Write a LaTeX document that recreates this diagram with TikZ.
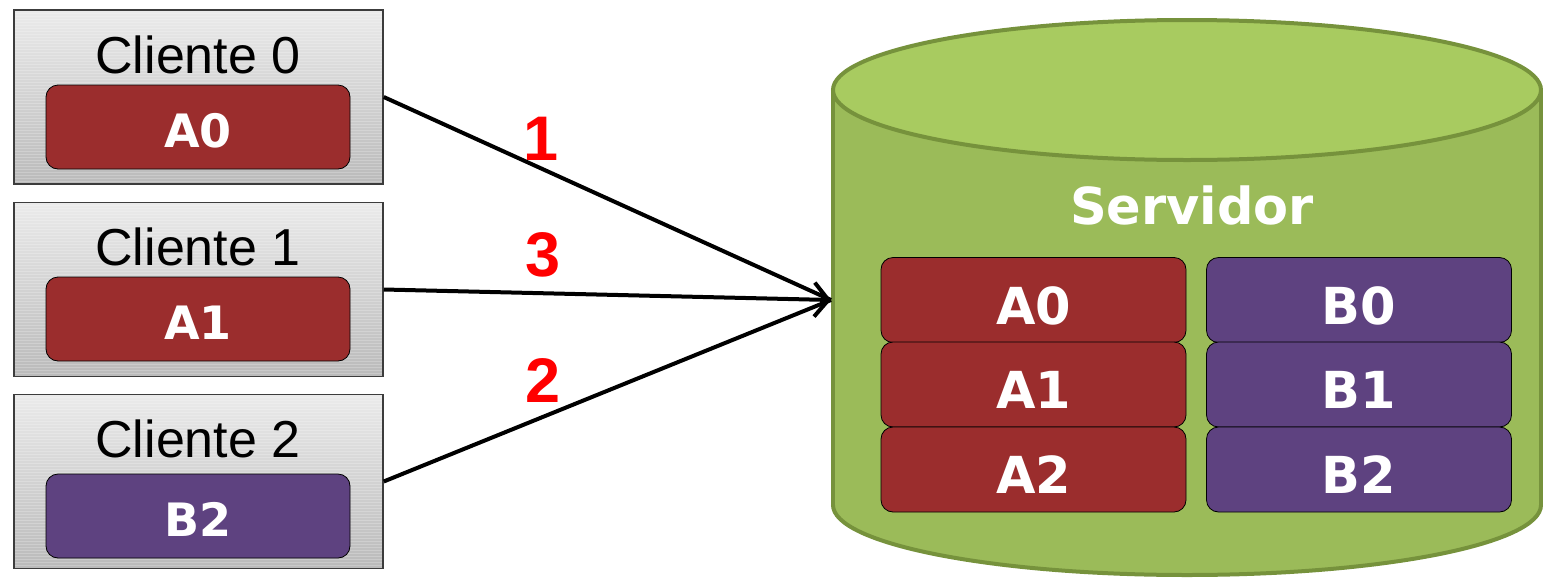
\documentclass[tikz,border=0pt]{standalone}
\usepackage{fontspec}
\setmainfont{Liberation Sans}
\newfontfamily\labelfont{DejaVu Sans}
\usetikzlibrary{arrows.meta,calc}

\definecolor{blockred}{RGB}{155,45,45}
\definecolor{blockpurple}{RGB}{94,66,128}
\definecolor{dbbody}{RGB}{155,187,89}
\definecolor{dbtop}{RGB}{168,203,96}
\definecolor{dbedge}{RGB}{118,146,60}
\definecolor{clientedge}{RGB}{60,60,60}

\tikzset{
  client/.style={rectangle, minimum width=369pt, minimum height=174pt, inner sep=0pt,
    draw=clientedge, line width=1.5pt, top color=black!8, bottom color=black!27,
    path picture={
      \foreach \k in {3,6,...,174}{
        \draw[white, opacity=.22, line width=.6pt]
          ($(path picture bounding box.north west)+(0,\k)$) --
          ($(path picture bounding box.north east)+(0,\k)$);
      }
    }},
  cname/.style={inner sep=0pt, font=\fontsize{52}{52}\selectfont, text=black},
  block/.style={rectangle, rounded corners=12pt, draw=black, line width=.8pt,
    inner sep=0pt, text=white, text depth=0pt},
  % the taller text box sets each label a little below the block's centre
  cblock/.style={block, minimum width=304pt, minimum height=84pt, text height=40pt,
    font=\labelfont\bfseries\fontsize{46}{46}\selectfont},
  sblock/.style={block, minimum width=305pt, minimum height=85pt, text height=48pt,
    font=\labelfont\bfseries\fontsize{51}{51}\selectfont},
  stepnum/.style={inner sep=0pt, text=red, font=\bfseries\fontsize{63}{63}\selectfont},
  conn/.style={line width=4pt, draw=black},
  conntip/.style={conn, -{Straight Barb[length=14pt, width=34pt, line width=4pt]}}
}

\begin{document}
\begin{tikzpicture}[x=1pt, y=-1pt]
\useasboundingbox (0,0) rectangle (1543,579);

% ---- server cylinder ----
\fill[dbbody] (833,90) rectangle (1541,505);
\fill[dbbody] (1187,505) ellipse [x radius=354, y radius=70];
\draw[dbedge, line width=4pt] (833,90) -- (833,505);
\draw[dbedge, line width=4pt] (1541,90) -- (1541,505);
\begin{scope}
  \clip (800,505) rectangle (1600,600);
  \draw[dbedge, line width=4pt] (1187,505) ellipse [x radius=354, y radius=70];
\end{scope}
\filldraw[fill=dbtop, draw=dbedge, line width=4pt] (1187,90) ellipse [x radius=354, y radius=70];
\coordinate (srv) at (831,300);

\node[inner sep=0pt, text=white, font=\labelfont\bfseries\fontsize{51}{51}\selectfont]
  (srvname) at (1192,205) {Servidor};

% ---- server blocks ----
\node[sblock, fill=blockred]    (sa0) at (1033.5,300)   {A0};
\node[sblock, fill=blockred]    (sa1) at (1033.5,384.5) {A1};
\node[sblock, fill=blockred]    (sa2) at (1033.5,469.5) {A2};
\node[sblock, fill=blockpurple] (sb0) at (1359,300)     {B0};
\node[sblock, fill=blockpurple] (sb1) at (1359,384.5)   {B1};
\node[sblock, fill=blockpurple] (sb2) at (1359,469.5)   {B2};

% ---- clients ----
\node[client] (c0) at (198.5,97)    {};
\node[client] (c1) at (198.5,289.5) {};
\node[client] (c2) at (198.5,481.5) {};

\node[cname] (n0) at (198,55)  {Cliente 0};
\node[cname] (n1) at (198,247) {Cliente 1};
\node[cname] (n2) at (198,439) {Cliente 2};

\node[cblock, fill=blockred]    (ca0) at (198,127) {A0};
\node[cblock, fill=blockred]    (ca1) at (198,319) {A1};
\node[cblock, fill=blockpurple] (cb2) at (198,516) {B2};

% ---- requests ----
\draw[conn]    (c0.east) -- (srv);
\draw[conntip] (c1.east) -- (srv);
\draw[conn]    (c2.east) -- (srv);

\node[stepnum] (s1) at (541,139) {1};
\node[stepnum] (s3) at (543,255) {3};
\node[stepnum] (s2) at (543,380) {2};
\end{tikzpicture}
\end{document}
